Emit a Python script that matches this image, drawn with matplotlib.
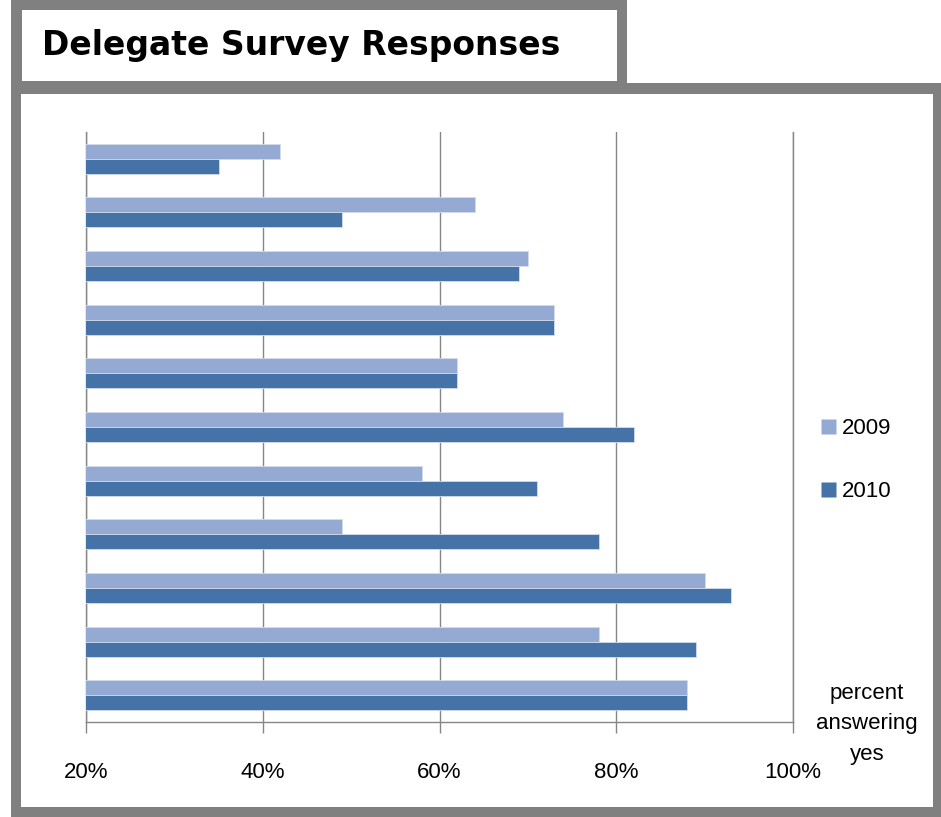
import numpy as np
import matplotlib.pyplot as plt
from matplotlib.patches import Rectangle
from matplotlib.lines import Line2D

# valores (de cima para baixo), em %
resp_2009 = [42, 64, 70, 73, 62, 74, 58, 49, 90, 78, 88]
resp_2010 = [35, 49, 69, 73, 62, 82, 71, 78, 93, 89, 88]
anos = ["2009", "2010"]
ticks = [20, 40, 60, 80, 100]
tick_labels = ["20%", "40%", "60%", "80%", "100%"]

W, H = 941, 817
cor_2009 = "#95AAD2"
cor_2010 = "#4573A8"
cinza = "#808080"
grade = "#868686"

plt.rcParams["font.family"] = ["Liberation Sans", "DejaVu Sans"]

fig = plt.figure(figsize=(W / 100, H / 100), dpi=100)


def caixa(x0, y0, x1, y1, cor):
    # retangulo em pixels (origem no canto superior esquerdo)
    fig.add_artist(Rectangle((x0 / W, 1 - y1 / H), (x1 - x0) / W, (y1 - y0) / H,
                             transform=fig.transFigure, facecolor=cor,
                             edgecolor="none", zorder=0))


# moldura do titulo e do grafico
caixa(11, 0, 627, 84, cinza)
caixa(22, 10, 617, 81, "white")
caixa(11, 83, 941, 817, cinza)
caixa(21, 94, 933, 807, "white")

fig.text(42 / W, 1 - 46 / H, "Delegate Survey Responses", fontsize=23.8,
         fontweight="bold", family="DejaVu Sans", ha="left", va="center")

ax = fig.add_axes([86 / W, 1 - 722 / H, 707 / W, 590 / H])
ax.set_facecolor("none")

y = np.arange(len(resp_2009))
h = 0.28
ax.barh(y - h / 2, resp_2009, height=h, color=cor_2009, edgecolor="#d3dbeb",
        linewidth=0.6, zorder=3, label=anos[0])
ax.barh(y + h / 2, resp_2010, height=h, color=cor_2010, edgecolor="#d3dbeb",
        linewidth=0.6, zorder=3, label=anos[1])

ax.set_xlim(20, 100)
ax.set_ylim(len(y) - 0.5, -0.5)
ax.set_yticks([])
ax.set_xticks(ticks)
ax.set_xticklabels(tick_labels)
ax.tick_params(axis="x", length=8, width=1, color=grade, pad=21, labelsize=16)

ax.grid(axis="x", color=grade, linewidth=1, zorder=1)
ax.spines["top"].set_visible(False)
for lado in ["left", "bottom", "right"]:
    ax.spines[lado].set_color(grade)
    ax.spines[lado].set_linewidth(1)

handles = [Line2D([], [], marker="s", linestyle="none", markersize=10.8,
                  markerfacecolor=c, markeredgecolor="none")
           for c in [cor_2009, cor_2010]]
fig.legend(handles, anos, loc="center left", bbox_to_anchor=(820 / W, 1 - 460 / H),
           frameon=False, fontsize=16, handlelength=0.7, handletextpad=0.3,
           borderpad=0, borderaxespad=0, labelspacing=1.9)

fig.text(867 / W, 1 - 724 / H, "percent\nanswering\nyes", fontsize=16,
         ha="center", va="center", linespacing=1.6)

plt.savefig("out.png", dpi=100)
